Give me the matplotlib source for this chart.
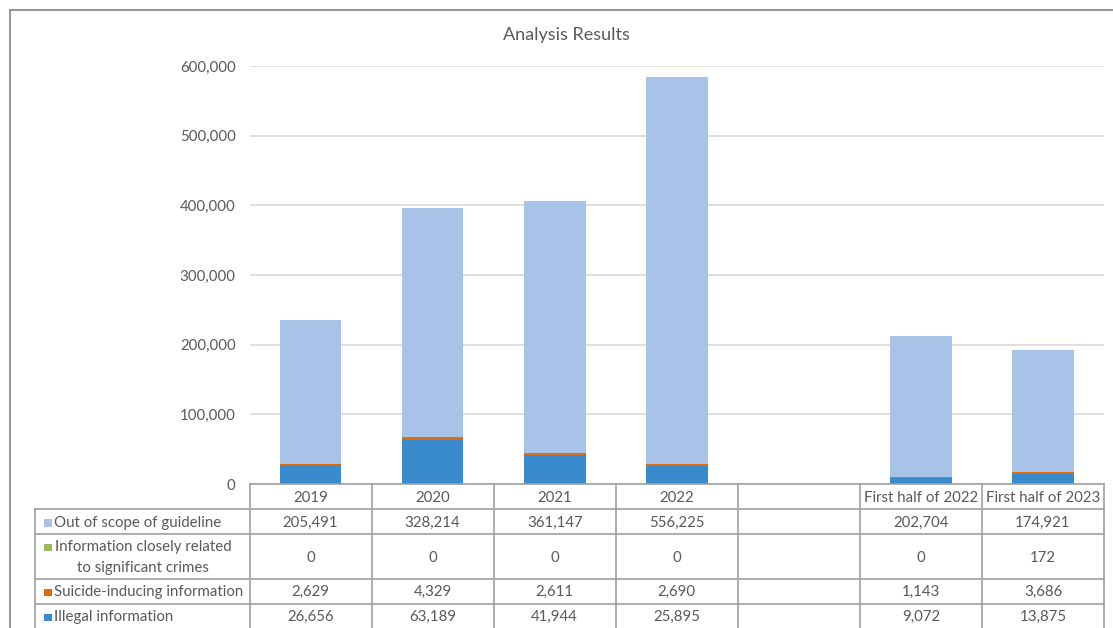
import numpy as np
import matplotlib
matplotlib.use("Agg")
import matplotlib.pyplot as plt
from matplotlib.lines import Line2D
from matplotlib.patches import Rectangle

plt.rcParams['font.family'] = ['Lato', 'DejaVu Sans']

# data
categories = ['2019', '2020', '2021', '2022', '', 'First half of 2022', 'First half of 2023']
illegal = [26656, 63189, 41944, 25895, None, 9072, 13875]
suicide = [2629, 4329, 2611, 2690, None, 1143, 3686]
crimes = [0, 0, 0, 0, None, 0, 172]
out_of_scope = [205491, 328214, 361147, 556225, None, 202704, 174921]

series_names = ['Illegal information', 'Suicide-inducing information',
                'Information closely related\nto significant crimes', 'Out of scope of guideline']
series_vals = [illegal, suicide, crimes, out_of_scope]
colors = ['#3A8BCD', '#E36C0A', '#9BBB59', '#A7C4E8']

W, H = 1113, 628
TXT = '#595959'
GRID = '#D9D9D9'
EDGE = '#A0A0A0'
FS = 10.8

fig = plt.figure(figsize=(W / 100, H / 100), dpi=100)


def fx(x):
    return x / W


def fy(y):
    return 1 - y / H


# plot area
left, right, top, base = 249.5, 1104, 66, 484
ax = fig.add_axes([fx(left), fy(base), fx(right - left), (base - top) / H])

x = np.arange(len(categories))
bottom = np.zeros(len(categories))
for vals, c in zip(series_vals, colors):
    v = np.array([0 if a is None else a for a in vals], dtype=float)
    ax.bar(x, v, 0.505, bottom=bottom, color=c, zorder=3)
    bottom += v

ax.set_xlim(-0.5, len(categories) - 0.5)
ax.set_ylim(0, 600000)
ax.set_yticks(np.arange(0, 600001, 100000))
ax.set_yticklabels([f'{int(t):,}' for t in ax.get_yticks()])
ax.yaxis.grid(True, color=GRID, lw=1.2, zorder=0)
ax.set_xticks([])
for s in ax.spines.values():
    s.set_visible(False)
ax.tick_params(axis='y', length=0, pad=10, labelsize=FS, labelcolor=TXT)

fig.text(fx(566), fy(35), 'Analysis Results', ha='center', va='center',
         fontsize=13, color=TXT)

# outer frame (chart border)
fig.add_artist(Line2D([fx(10), fx(10)], [fy(10), fy(640)], color='#8C8C8C', lw=1.3))
fig.add_artist(Line2D([fx(10), fx(1120)], [fy(10), fy(10)], color='#8C8C8C', lw=1.3))

# data table
col_w = (right - left) / len(categories)
col_edges = [left + i * col_w for i in range(len(categories) + 1)]
lab_left = 34.5
row_edges = [484, 509, 534, 579, 603.5, 628.5]

fig.add_artist(Line2D([fx(left), fx(right)], [fy(row_edges[0])] * 2, color=EDGE, lw=1.2))
for ce in col_edges:
    fig.add_artist(Line2D([fx(ce)] * 2, [fy(row_edges[0]), fy(row_edges[-1] + 20)], color=EDGE, lw=1.2))
for re_ in row_edges[1:]:
    fig.add_artist(Line2D([fx(lab_left), fx(right)], [fy(re_)] * 2, color=EDGE, lw=1.2))
fig.add_artist(Line2D([fx(lab_left)] * 2, [fy(row_edges[1]), fy(row_edges[-1] + 20)], color=EDGE, lw=1.2))

for i, cat in enumerate(categories):
    cx = (col_edges[i] + col_edges[i + 1]) / 2
    fig.text(fx(cx), fy((row_edges[0] + row_edges[1]) / 2 + 1), cat, ha='center', va='center',
             fontsize=FS, color=TXT)

# table body: top row is the top of the stack
order = [3, 2, 1, 0]
for r, si in enumerate(order):
    y0, y1 = row_edges[r + 1], row_edges[r + 2]
    cy = (y0 + y1) / 2 + 1
    name = series_names[si]
    key_y = cy if '\n' not in name else (y0 + 13)
    fig.add_artist(Rectangle((fx(44), fy(key_y + 4)), 7.5 / W, 7.5 / H,
                             transform=fig.transFigure, color=colors[si], lw=0))
    if '\n' in name:
        fig.text(fx(143), fy(cy), name, ha='center', va='center', multialignment='center',
                 fontsize=FS, color=TXT, linespacing=1.55)
    else:
        fig.text(fx(54), fy(cy), name, ha='left', va='center', fontsize=FS, color=TXT)
    for i, v in enumerate(series_vals[si]):
        if v is None:
            continue
        cx = (col_edges[i] + col_edges[i + 1]) / 2
        fig.text(fx(cx), fy(cy), f'{v:,}', ha='center', va='center', fontsize=FS, color=TXT)

fig.savefig('out.png', dpi=100)
